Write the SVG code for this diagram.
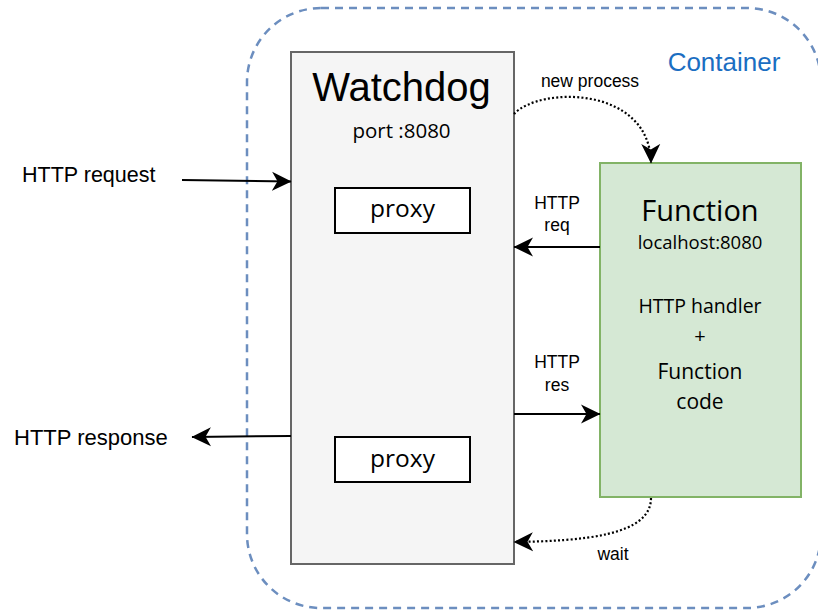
<svg xmlns="http://www.w3.org/2000/svg" width="818" height="610" viewBox="0 0 818 610">
  <style>
    .lbl { font-family: "Liberation Sans", Arial, sans-serif; fill: #000; }
    .seg { font-family: "Open Sans", "Liberation Sans", sans-serif; fill: #000; }
    .solid { fill: none; stroke: #000; stroke-width: 2; }
    .dots { fill: none; stroke: #000; stroke-width: 2.2; stroke-dasharray: 2 2.2; }
  </style>
  <defs>
    <marker id="arrow" markerUnits="userSpaceOnUse" markerWidth="20" markerHeight="20" refX="19" refY="10" orient="auto" viewBox="0 0 20 20">
      <path d="M0,0.5 L19.5,10 L0,19.5 L5.5,10 Z" fill="#000"/>
    </marker>
  </defs>
  <rect width="818" height="610" fill="#fff"/>

  <!-- container boundary -->
  <g id="container">
    <rect x="247" y="8" width="574" height="600" rx="74" ry="74" fill="none" stroke="#6c8ebf" stroke-width="2.5" stroke-dasharray="8 6"/>
    <text x="724" y="71" class="lbl" font-size="26" text-anchor="middle" style="fill:#1b6ec2">Container</text>
  </g>

  <!-- watchdog process -->
  <g id="watchdog">
    <rect x="291" y="52" width="223" height="512" fill="#f5f5f5" stroke="#666" stroke-width="2"/>
    <text x="401.5" y="101" class="lbl" font-size="40" text-anchor="middle">Watchdog</text>
    <text x="401.5" y="138" class="seg" font-size="20.5" text-anchor="middle">port :8080</text>
  </g>
  <g id="proxy-in">
    <rect x="335" y="188" width="135" height="45" fill="#fff" stroke="#000" stroke-width="2"/>
    <text x="402.5" y="217" class="seg" font-size="24.5" text-anchor="middle">proxy</text>
  </g>
  <g id="proxy-out">
    <rect x="335" y="437" width="135" height="45" fill="#fff" stroke="#000" stroke-width="2"/>
    <text x="402.5" y="467" class="seg" font-size="24.5" text-anchor="middle">proxy</text>
  </g>

  <!-- function process -->
  <g id="function">
    <rect x="600" y="163" width="201" height="334" fill="#d5e8d4" stroke="#82b366" stroke-width="2"/>
    <text x="700" y="221" class="seg" font-size="29" text-anchor="middle">Function</text>
    <text x="700" y="249" class="seg" font-size="18.5" text-anchor="middle">localhost:8080</text>
    <text x="700" y="313" class="seg" font-size="19.5" text-anchor="middle">HTTP handler</text>
    <text x="700" y="343" class="seg" font-size="20" text-anchor="middle">+</text>
    <text x="700" y="379" class="seg" font-size="21" text-anchor="middle">Function</text>
    <text x="700" y="409" class="seg" font-size="21" text-anchor="middle">code</text>
  </g>

  <!-- outside labels -->
  <g id="http-request">
    <text x="22" y="182" class="lbl" font-size="21.5">HTTP request</text>
  </g>
  <g id="http-response">
    <text x="14" y="445" class="lbl" font-size="22">HTTP response</text>
  </g>

  <!-- connectors -->
  <g id="connectors">
    <path class="solid" d="M182,180 L291,181.5" marker-end="url(#arrow)"/>
    <path class="solid" d="M291,436 L192,437" marker-end="url(#arrow)"/>
    <path class="solid" d="M600,247 L514,247" marker-end="url(#arrow)"/>
    <path class="solid" d="M514,414 L600,414" marker-end="url(#arrow)"/>
    <path class="dots" d="M514,114 C540,86 650,86 651,163" marker-end="url(#arrow)"/>
    <path class="dots" d="M651,498 C651,536 582,541 514,542" marker-end="url(#arrow)"/>

    <text x="590" y="87" class="lbl" font-size="17.5" text-anchor="middle">new process</text>
    <text x="557" y="209" class="lbl" font-size="17.5" text-anchor="middle">HTTP</text>
    <text x="557" y="231" class="lbl" font-size="17.5" text-anchor="middle">req</text>
    <text x="557" y="368" class="lbl" font-size="17.5" text-anchor="middle">HTTP</text>
    <text x="557" y="391" class="lbl" font-size="17.5" text-anchor="middle">res</text>
    <text x="613" y="560" class="lbl" font-size="17.5" text-anchor="middle">wait</text>
  </g>
</svg>
